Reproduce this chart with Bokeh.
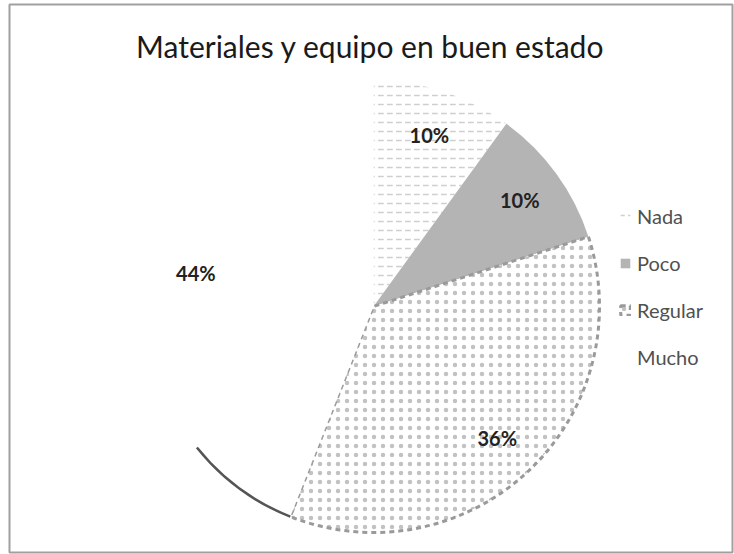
import math
from bokeh.plotting import figure
from bokeh.models import Range1d, Legend, LegendItem
from bokeh.core.properties import value
from bokeh.embed import file_html
from bokeh.resources import INLINE

title = "Materiales y equipo en buen estado"
categories = ["Nada", "Poco", "Regular", "Mucho"]
percents = [10, 10, 36, 44]

fills = ["white", "#b4b4b4", "white", "white"]
hatches = ["horizontal_dash", " ", "dot", " "]
hatch_colors = ["#cfcfcf", "#b4b4b4", "#c2c2c2", "white"]
hatch_scales = [9, 12, 9, 12]
hatch_weights = [1.5, 1, 2.2, 1]
line_colors = [None, None, "#9a9a9a", None]

W, H = 734, 554
cx, cy, R = 373, 554 - 306, 226

p = figure(width=W, height=H, output_backend="svg", toolbar_location=None,
           x_range=Range1d(9, 732), y_range=Range1d(2, 550),
           min_border_left=9, min_border_right=2, min_border_top=4, min_border_bottom=2)
p.axis.visible = False
p.grid.visible = False
p.outline_line_color = "#a0a0a0"
p.outline_line_width = 2
p.background_fill_color = "white"
p.border_fill_color = "white"

total = sum(percents)
cum = 0
renderers = []
lx, ly, ltxt = [], [], []
for i, (cat, v) in enumerate(zip(categories, percents)):
    a0 = math.pi / 2 - 2 * math.pi * cum / total
    a1 = math.pi / 2 - 2 * math.pi * (cum + v) / total
    mid = (a0 + a1) / 2
    kw = dict(fill_color=fills[i], hatch_pattern=hatches[i], hatch_color=hatch_colors[i],
              hatch_scale=hatch_scales[i], hatch_weight=hatch_weights[i])
    if line_colors[i]:
        kw.update(line_color=line_colors[i], line_width=3, line_dash="5 4")
    else:
        kw.update(line_color=None)
    r = p.wedge(x=cx, y=cy, radius=R, start_angle=a0, end_angle=a1,
                direction="clock", **kw)
    renderers.append(r)
    lx.append(cx + 0.8 * R * math.cos(mid))
    ly.append(cy + 0.8 * R * math.sin(mid))
    ltxt.append(f"{v}%")
    if cat == "Mucho":
        p.arc(x=cx, y=cy, radius=R, start_angle=a0, end_angle=a0 - 0.52,
              direction="clock", line_color="#555555", line_width=2.5)
    cum += v

p.text(x=lx, y=ly, text=ltxt, text_align="center", text_baseline="middle",
       text_font=value("Lato"), text_font_size="20px", text_font_style="bold",
       text_color="#222222")

p.text(x=[370], y=[554 - 45], text=[title], text_align="center", text_baseline="middle",
       text_font=value("Lato"), text_font_size="30px", text_color="#1a1a1a")

legend = Legend(items=[LegendItem(label=c, renderers=[r]) for c, r in zip(categories, renderers)],
                location=(610, 183), orientation="vertical",
                label_text_font="Lato", label_text_font_size="20px", label_text_color="#505050",
                glyph_width=12, glyph_height=12, label_height=22, spacing=23,
                padding=0, margin=0, border_line_color=None, background_fill_alpha=0,
                label_standoff=6)
p.add_layout(legend, "center")

open("out.html", "w").write(file_html(p, INLINE))
